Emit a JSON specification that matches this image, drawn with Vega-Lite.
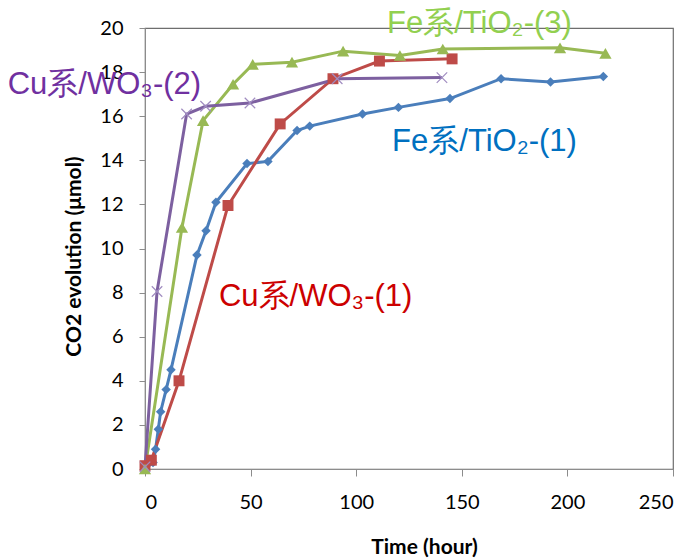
{
  "$schema": "https://vega.github.io/schema/vega-lite/v6.json",
  "width": 528,
  "height": 441,
  "autosize": {"type": "none"},
  "padding": {"left": 145, "top": 28, "right": 20, "bottom": 89},
  "background": "white",
  "config": {
    "view": {"stroke": "#6e6e6e", "strokeWidth": 1.2},
    "axis": {"grid": false, "domainColor": "#8c8c8c", "tickColor": "#8c8c8c", "labelColor": "#000000", "labelFont": "Lato", "labelFontSize": 20, "titleFont": "Lato", "titleFontSize": 21, "titleFontWeight": "bold", "titleColor": "#000000"}
  },
  "resolve": {"scale": {"color": "independent"}},
  "datasets": {
    "pts": [
      {"series": "Fe1", "t": 0, "v": 0},
      {"series": "Fe1", "t": 3.8, "v": 0.3},
      {"series": "Fe1", "t": 5.0, "v": 0.9},
      {"series": "Fe1", "t": 6.3, "v": 1.8},
      {"series": "Fe1", "t": 7.4, "v": 2.6},
      {"series": "Fe1", "t": 10, "v": 3.6},
      {"series": "Fe1", "t": 12.3, "v": 4.5},
      {"series": "Fe1", "t": 24.6, "v": 9.7},
      {"series": "Fe1", "t": 28.9, "v": 10.8},
      {"series": "Fe1", "t": 33.6, "v": 12.1},
      {"series": "Fe1", "t": 48.3, "v": 13.85},
      {"series": "Fe1", "t": 58.2, "v": 13.95},
      {"series": "Fe1", "t": 72, "v": 15.35},
      {"series": "Fe1", "t": 78, "v": 15.55},
      {"series": "Fe1", "t": 103, "v": 16.1},
      {"series": "Fe1", "t": 120, "v": 16.4},
      {"series": "Fe1", "t": 144.4, "v": 16.8},
      {"series": "Fe1", "t": 168.6, "v": 17.7},
      {"series": "Fe1", "t": 192, "v": 17.55},
      {"series": "Fe1", "t": 217, "v": 17.8},
      {"series": "Cu1", "t": 0, "v": 0.15},
      {"series": "Cu1", "t": 3, "v": 0.4},
      {"series": "Cu1", "t": 16.1, "v": 4.0},
      {"series": "Cu1", "t": 39.3, "v": 11.95},
      {"series": "Cu1", "t": 64, "v": 15.65},
      {"series": "Cu1", "t": 89, "v": 17.7},
      {"series": "Cu1", "t": 111, "v": 18.5},
      {"series": "Cu1", "t": 145.4, "v": 18.6},
      {"series": "Fe3", "t": 0, "v": 0},
      {"series": "Fe3", "t": 17.5, "v": 10.95},
      {"series": "Fe3", "t": 27.5, "v": 15.8},
      {"series": "Fe3", "t": 41.7, "v": 17.45},
      {"series": "Fe3", "t": 51, "v": 18.35},
      {"series": "Fe3", "t": 69.6, "v": 18.45},
      {"series": "Fe3", "t": 93.8, "v": 18.95},
      {"series": "Fe3", "t": 120.7, "v": 18.75},
      {"series": "Fe3", "t": 141, "v": 19.05},
      {"series": "Fe3", "t": 196.5, "v": 19.1},
      {"series": "Fe3", "t": 218, "v": 18.85},
      {"series": "Cu2", "t": 0, "v": 0.1},
      {"series": "Cu2", "t": 5.7, "v": 8.05},
      {"series": "Cu2", "t": 19.7, "v": 16.1},
      {"series": "Cu2", "t": 28.7, "v": 16.45},
      {"series": "Cu2", "t": 49.7, "v": 16.6},
      {"series": "Cu2", "t": 91, "v": 17.7},
      {"series": "Cu2", "t": 140.6, "v": 17.75}
    ],
    "labels": [
      {"series": "Cu2", "t": -65, "v": 17.4, "text": "Cu系/WO₃-(2)"},
      {"series": "Cu1", "t": 35, "v": 7.8, "text": "Cu系/WO₃-(1)"},
      {"series": "Fe1", "t": 117, "v": 14.85, "text": "Fe系/TiO₂-(1)"},
      {"series": "Fe3", "t": 114.6, "v": 20.2, "text": "Fe系/TiO₂-(3)"}
    ]
  },
  "layer": [
    {
      "data": {"name": "pts"},
      "mark": {"type": "line", "strokeWidth": 3, "clip": false},
      "encoding": {
        "x": {"field": "t", "type": "quantitative", "scale": {"domain": [0, 250], "nice": false}, "axis": {"title": "Time (hour)", "values": [0, 50, 100, 150, 200, 250], "tickSize": 7, "labelPadding": 16, "titlePadding": 24, "titleX": 279}},
        "y": {"field": "v", "type": "quantitative", "scale": {"domain": [0, 20], "nice": false}, "axis": {"title": "CO2 evolution (μmol)", "values": [0, 2, 4, 6, 8, 10, 12, 14, 16, 18, 20], "tickSize": 6, "labelPadding": 16, "titlePadding": 15, "titleY": 228}},
        "color": {"field": "series", "type": "nominal", "scale": {"domain": ["Fe1", "Cu1", "Fe3", "Cu2"], "range": ["#4a7ebb", "#be4b48", "#98b954", "#7d60a0"]}, "legend": null},
        "order": {"field": "t", "type": "quantitative"}
      }
    },
    {
      "data": {"name": "pts"},
      "transform": [{"filter": "datum.series !== 'Cu2'"}],
      "mark": {"type": "point", "filled": true, "opacity": 1, "clip": false},
      "encoding": {
        "x": {"field": "t", "type": "quantitative"},
        "y": {"field": "v", "type": "quantitative"},
        "color": {"field": "series", "type": "nominal", "scale": {"domain": ["Fe1", "Cu1", "Fe3", "Cu2"], "range": ["#4a7ebb", "#be4b48", "#98b954", "#7d60a0"]}, "legend": null},
        "shape": {"field": "series", "type": "nominal", "scale": {"domain": ["Fe1", "Cu1", "Fe3"], "range": ["diamond", "square", "triangle-up"]}, "legend": null},
        "size": {"field": "series", "type": "nominal", "scale": {"domain": ["Fe1", "Cu1", "Fe3"], "range": [90, 150, 130]}, "legend": null}
      }
    },
    {
      "data": {"name": "pts"},
      "transform": [{"filter": "datum.series === 'Cu2'"}],
      "mark": {"type": "point", "filled": false, "shape": "M-1,-1L1,1M-1,1L1,-1", "size": 110, "strokeWidth": 1.2, "stroke": "#a08cc0", "opacity": 1, "clip": false},
      "encoding": {
        "x": {"field": "t", "type": "quantitative"},
        "y": {"field": "v", "type": "quantitative"}
      }
    },
    {
      "data": {"name": "labels"},
      "mark": {"type": "text", "align": "left", "baseline": "middle", "font": "Liberation Sans", "fontSize": 31, "clip": false},
      "encoding": {
        "x": {"field": "t", "type": "quantitative"},
        "y": {"field": "v", "type": "quantitative"},
        "text": {"field": "text"},
        "color": {"field": "series", "type": "nominal", "scale": {"domain": ["Fe1", "Cu1", "Fe3", "Cu2"], "range": ["#0070c0", "#cc0000", "#92d050", "#7030a0"]}, "legend": null}
      }
    }
  ]
}
